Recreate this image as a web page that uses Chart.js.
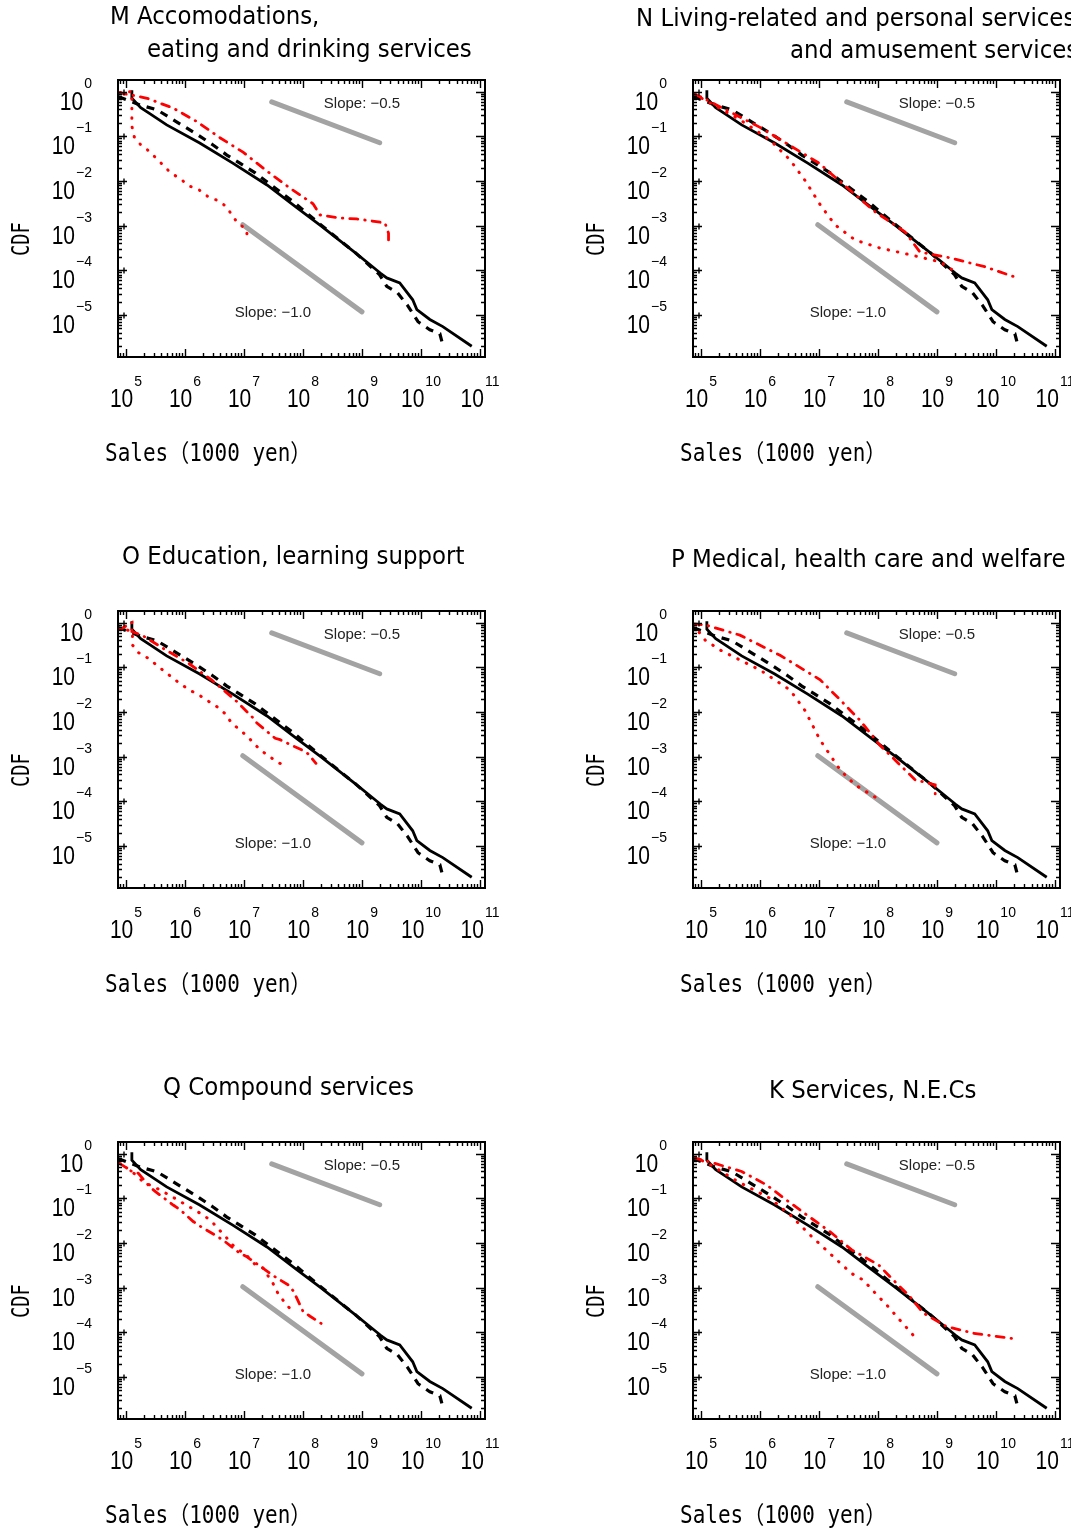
<!DOCTYPE html>
<html>
<head>
<meta charset="utf-8">
<script src="https://cdn.jsdelivr.net/npm/chart.js@4.4.1/dist/chart.umd.min.js"></script>
<style>
  html, body { margin: 0; padding: 0; background: #fff; }
  body { position: relative; width: 1080px; height: 1531px; overflow: hidden; }
  .panel { position: absolute; width: 575px; height: 531px; }
  .panel canvas { position: absolute; left: 0; top: 0; }
  .title { position: absolute; font-family: "DejaVu Sans", sans-serif; font-size: 22.9px; line-height: 23px;
           white-space: pre; color: #000; transform: scaleY(1.1); transform-origin: left top; }
  .xname { position: absolute; left: 105px; top: 439px; font-family: "DejaVu Sans Mono", "Noto Sans CJK JP", monospace;
           font-size: 21px; line-height: 24px; white-space: pre; color: #000; transform: scaleY(1.15); transform-origin: left top; }
  .yname { position: absolute; left: 9px; top: 256px; font-family: "DejaVu Sans Mono", "Noto Sans CJK JP", monospace;
           font-size: 24px; line-height: 24px; white-space: pre; color: #000; transform: rotate(-90deg) scaleX(0.78); transform-origin: left top; }
  .edge { position: absolute; left: 1071px; top: 0; width: 9px; height: 1531px; background: #fff; }
</style>
</head>
<body>
<script>
// log10 axis limits shared by every panel
const xLogRange = [4.865, 11.085];
const yLogRange = [-5.94, 0.26];
const xTickExponents = [5, 6, 7, 8, 9, 10, 11];
const yTickExponents = [0, -1, -2, -3, -4, -5];

// reference slopes (log10 sales, log10 cdf)
const slopeHalfX = [7.47, 9.30];
const slopeHalfY = [-0.23, -1.145];
const slopeOneX = [6.98, 9.0];
const slopeOneY = [-2.98, -4.93];
const slopeLabels = ['Slope: \u22120.5', 'Slope: \u22121.0'];
const slopeLabelX = [9.0, 7.49];
const slopeLabelY = [-0.27, -4.95];

// all firms (black solid) and comparison group (black dashed), same in every panel
const allFirmsX = [5.10, 5.10, 5.25, 5.41, 5.69, 6.25, 6.81, 7.39, 7.90, 8.30, 8.90, 9.31, 9.42, 9.64, 9.86, 9.93, 10.15, 10.37, 10.86];
const allFirmsY = [0.03, -0.15, -0.36, -0.50, -0.745, -1.15, -1.60, -2.09, -2.60, -3.00, -3.62, -4.06, -4.17, -4.28, -4.66, -4.88, -5.10, -5.26, -5.70];
const groupX = [4.87, 4.92, 5.24, 5.53, 5.75, 6.0, 6.22, 6.47, 6.71, 6.93, 7.19, 7.41, 7.64, 7.86, 8.30, 8.90, 9.30, 9.42, 9.60, 9.78, 9.95, 10.15, 10.32, 10.37];
const groupY = [-0.12, -0.14, -0.30, -0.41, -0.59, -0.79, -0.97, -1.19, -1.42, -1.60, -1.82, -2.04, -2.27, -2.49, -2.98, -3.62, -4.10, -4.36, -4.50, -4.80, -5.15, -5.33, -5.42, -5.67];

// M: red dotted / red dash-dot
const mDotX = [4.90, 5.10, 5.10, 5.10, 5.14, 5.25, 5.39, 5.61, 5.76, 5.92, 6.07, 6.24, 6.39, 6.56, 6.71, 6.81, 6.90, 7.05, 7.05];
const mDotY = [-0.02, 0.0, -0.50, -0.77, -1.01, -1.19, -1.33, -1.62, -1.82, -1.95, -2.11, -2.20, -2.35, -2.44, -2.58, -2.80, -2.94, -3.10, -3.21];
const mDashDotX = [4.87, 4.93, 5.15, 5.38, 5.80, 6.20, 6.59, 6.99, 7.38, 7.78, 8.17, 8.29, 8.63, 8.91, 9.14, 9.39, 9.45, 9.45];
const mDashDotY = [-0.03, -0.04, -0.09, -0.16, -0.37, -0.67, -1.03, -1.36, -1.77, -2.16, -2.51, -2.76, -2.83, -2.85, -2.89, -2.94, -3.17, -3.39];

// N
const nDotX = [4.87, 5.07, 5.66, 6.17, 6.51, 6.76, 7.02, 7.27, 7.61, 8.03, 8.54, 9.05, 9.31];
const nDotY = [-0.05, -0.19, -0.63, -1.08, -1.53, -1.98, -2.53, -2.98, -3.32, -3.50, -3.65, -3.81, -4.03];
const nDashDotX = [4.87, 5.0, 6.0, 7.0, 7.95, 8.46, 8.71, 9.22, 9.81, 10.32];
const nDashDotY = [-0.05, -0.12, -0.80, -1.60, -2.69, -3.14, -3.59, -3.72, -3.92, -4.15];

// O
const oDotX = [4.87, 4.93, 5.11, 5.11, 5.21, 5.38, 5.64, 5.93, 6.08, 6.25, 6.41, 6.55, 6.69, 6.79, 6.93, 7.07, 7.19, 7.34, 7.50, 7.67];
const oDotY = [-0.12, -0.13, -0.20, -0.50, -0.67, -0.80, -1.08, -1.38, -1.51, -1.63, -1.77, -1.89, -2.05, -2.25, -2.40, -2.56, -2.74, -2.91, -3.06, -3.20];
const oDashDotX = [4.87, 4.93, 5.10, 5.10, 5.27, 5.66, 6.06, 6.45, 6.85, 7.16, 7.22, 7.53, 7.61, 7.98, 8.09, 8.22];
const oDashDotY = [-0.12, -0.13, 0.0, -0.20, -0.28, -0.60, -0.91, -1.28, -1.73, -2.14, -2.25, -2.59, -2.62, -2.85, -2.94, -3.15];

// P
const pDotX = [4.87, 5.07, 5.32, 6.0, 6.51, 6.76, 7.02, 7.36, 7.61, 8.03];
const pDotY = [-0.05, -0.39, -0.61, -1.06, -1.51, -1.96, -2.63, -3.30, -3.63, -3.97];
const pDashDotX = [4.87, 5.07, 5.66, 6.34, 7.02, 7.36, 7.69, 8.03, 8.37, 8.63, 8.97, 8.97];
const pDashDotY = [-0.03, -0.05, -0.28, -0.73, -1.28, -1.73, -2.18, -2.74, -3.18, -3.52, -3.63, -3.93];

// Q
const qDotX = [4.87, 4.98, 5.10, 5.29, 5.59, 5.88, 6.02, 6.19, 6.35, 6.48, 6.59, 6.73, 6.84, 7.04, 7.18, 7.32, 7.49, 7.58, 7.69, 7.80];
const qDotY = [-0.20, -0.29, -0.40, -0.63, -0.82, -1.04, -1.15, -1.28, -1.41, -1.56, -1.72, -1.92, -2.09, -2.27, -2.47, -2.56, -2.90, -3.14, -3.33, -3.50];
const qDashDotX = [4.87, 5.10, 5.21, 5.40, 5.50, 5.80, 5.92, 6.14, 6.25, 6.53, 6.66, 6.93, 7.04, 7.36, 7.47, 7.75, 7.84, 8.00, 8.12, 8.33];
const qDashDotY = [-0.20, -0.40, -0.44, -0.74, -0.85, -1.15, -1.26, -1.52, -1.62, -1.84, -1.95, -2.23, -2.30, -2.60, -2.71, -2.94, -3.08, -3.53, -3.64, -3.82];

// K
const kDotX = [4.87, 5.10, 5.63, 6.17, 6.51, 6.88, 7.27, 7.55, 7.75, 7.98, 8.17, 8.34, 8.57, 8.66];
const kDotY = [-0.08, -0.20, -0.63, -1.00, -1.37, -1.86, -2.34, -2.68, -2.83, -3.16, -3.42, -3.68, -4.02, -4.18];
const kDashDotX = [4.87, 4.90, 5.21, 5.69, 6.11, 6.45, 6.79, 7.19, 7.55, 8.01, 8.20, 8.54, 8.77, 9.16, 9.62, 10.34];
const kDashDotY = [-0.08, -0.10, -0.21, -0.40, -0.70, -1.04, -1.37, -1.75, -2.15, -2.49, -2.75, -3.20, -3.57, -3.87, -4.02, -4.15];

const panels = [
  { left: 0,   top: 0,    title: [['M Accomodations,', 110, 3], ['eating and drinking services', 147, 36]], dot: [mDotX, mDotY], dashDot: [mDashDotX, mDashDotY] },
  { left: 575, top: 0,    title: [['N Living-related and personal services', 61, 5], ['and amusement services', 215, 37]], dot: [nDotX, nDotY], dashDot: [nDashDotX, nDashDotY] },
  { left: 0,   top: 531,  title: [['O Education, learning support', 122, 12]], dot: [oDotX, oDotY], dashDot: [oDashDotX, oDashDotY] },
  { left: 575, top: 531,  title: [['P Medical, health care and welfare', 96, 15]], dot: [pDotX, pDotY], dashDot: [pDashDotX, pDashDotY] },
  { left: 0,   top: 1062, title: [['Q Compound services', 163, 12]], dot: [qDotX, qDotY], dashDot: [qDashDotX, qDashDotY] },
  { left: 575, top: 1062, title: [['K Services, N.E.Cs', 194, 15]], dot: [kDotX, kDotY], dashDot: [kDashDotX, kDashDotY] },
];

function toPoints(xs, ys) {
  return xs.map((lx, i) => ({ x: Math.pow(10, lx), y: Math.pow(10, ys[i]) }));
}

// tall "10" base with a small exponent, placed under/left of a tick
function drawPower(ctx, exp, px, py, align) {
  const base = '10';
  const sup = exp < 0 ? '\u2212' + (-exp) : String(exp);
  ctx.font = '21px "Liberation Sans", Arial, sans-serif';
  const wb = ctx.measureText(base).width;
  ctx.font = '14px "Liberation Sans", Arial, sans-serif';
  const ws = ctx.measureText(sup).width;
  const x0 = align === 'x' ? px - (wb + ws + 1) / 2 : px - (wb + ws + 1);
  const baseY = align === 'x' ? py + 50 : py + 18;
  const supY = align === 'x' ? py + 29 : py - 4;
  ctx.save();
  ctx.translate(x0, baseY);
  ctx.scale(1, 1.2);
  ctx.font = '21px "Liberation Sans", Arial, sans-serif';
  ctx.fillText(base, 0, 0);
  ctx.restore();
  ctx.font = '14px "Liberation Sans", Arial, sans-serif';
  ctx.fillText(sup, x0 + wb + 1, supY);
}

const frameAndTicks = {
  id: 'frameAndTicks',
  afterDatasetsDraw(chart) {
    const { ctx, chartArea: a } = chart;
    const xs = chart.scales.x, ys = chart.scales.y;
    ctx.save();
    ctx.strokeStyle = '#000';
    ctx.fillStyle = '#000';
    ctx.lineWidth = 2;
    ctx.strokeRect(a.left, a.top, a.right - a.left, a.bottom - a.top);
    ctx.lineWidth = 1.4;
    ctx.beginPath();
    for (let e = 4; e <= 11; e++) {
      for (let k = 1; k <= 9; k++) {
        const v = k * Math.pow(10, e);
        if (v < xs.min || v > xs.max) continue;
        const px = Math.round(xs.getPixelForValue(v)) + 0.5;
        const len = k === 1 ? 8 : 4;
        ctx.moveTo(px, a.bottom); ctx.lineTo(px, a.bottom - len);
        ctx.moveTo(px, a.top); ctx.lineTo(px, a.top + len);
      }
    }
    for (let e = -6; e <= 0; e++) {
      for (let k = 1; k <= 9; k++) {
        const v = k * Math.pow(10, e);
        if (v < ys.min || v > ys.max) continue;
        const py = Math.round(ys.getPixelForValue(v)) + 0.5;
        const len = k === 1 ? 9 : 4;
        ctx.moveTo(a.left, py); ctx.lineTo(a.left + len, py);
        ctx.moveTo(a.right, py); ctx.lineTo(a.right - len, py);
        if (k === 1) { ctx.moveTo(a.left + 6, py - 3); ctx.lineTo(a.left + 6, py + 3); }
      }
    }
    ctx.stroke();

    ctx.textAlign = 'left';
    ctx.textBaseline = 'alphabetic';
    xTickExponents.forEach(e => drawPower(ctx, e, xs.getPixelForValue(Math.pow(10, e)), a.bottom, 'x'));
    yTickExponents.forEach(e => drawPower(ctx, e, a.left - 26, ys.getPixelForValue(Math.pow(10, e)), 'y'));

    ctx.font = '15px "Liberation Sans", Arial, sans-serif';
    ctx.fillStyle = '#222';
    ctx.textAlign = 'center';
    ctx.textBaseline = 'middle';
    slopeLabels.forEach((t, i) => {
      ctx.fillText(t, xs.getPixelForValue(Math.pow(10, slopeLabelX[i])), ys.getPixelForValue(Math.pow(10, slopeLabelY[i])));
    });
    ctx.restore();
  }
};

panels.forEach(p => {
  const wrap = document.createElement('div');
  wrap.className = 'panel';
  wrap.style.left = p.left + 'px';
  wrap.style.top = p.top + 'px';
  document.body.appendChild(wrap);

  const canvas = document.createElement('canvas');
  canvas.width = 575;
  canvas.height = 531;
  canvas.style.width = '575px';
  canvas.style.height = '531px';
  wrap.appendChild(canvas);

  p.title.forEach(([text, x, y]) => {
    const d = document.createElement('div');
    d.className = 'title';
    d.textContent = text;
    d.style.left = x + 'px';
    d.style.top = y + 'px';
    wrap.appendChild(d);
  });
  const xn = document.createElement('div');
  xn.className = 'xname';
  xn.textContent = 'Sales\uff081000 yen\uff09';
  wrap.appendChild(xn);
  const yn = document.createElement('div');
  yn.className = 'yname';
  yn.textContent = 'CDF';
  wrap.appendChild(yn);

  const grey = { borderColor: '#a3a3a3', borderWidth: 5, borderCapStyle: 'round', order: 5 };
  new Chart(canvas.getContext('2d'), {
    type: 'line',
    data: {
      datasets: [
        { ...grey, data: toPoints(slopeHalfX, slopeHalfY) },
        { ...grey, data: toPoints(slopeOneX, slopeOneY) },
        { data: toPoints(allFirmsX, allFirmsY), borderColor: '#000', borderWidth: 2.8, order: 3 },
        { data: toPoints(groupX, groupY), borderColor: '#000', borderWidth: 3.2, borderDash: [8, 7], order: 4 },
        { data: toPoints(p.dot[0], p.dot[1]), borderColor: '#ff0000', borderWidth: 3, borderDash: [0.5, 9], borderCapStyle: 'round', order: 1 },
        { data: toPoints(p.dashDot[0], p.dashDot[1]), borderColor: '#ff0000', borderWidth: 2.8, borderDash: [8, 7, 0.5, 7], borderCapStyle: 'round', order: 2 },
      ]
    },
    options: {
      responsive: false,
      animation: false,
      devicePixelRatio: 1,
      layout: { padding: { left: 118, top: 80, right: 90, bottom: 174 } },
      elements: { point: { radius: 0 }, line: { tension: 0, fill: false } },
      plugins: { legend: { display: false }, tooltip: { enabled: false }, title: { display: false } },
      scales: {
        x: { type: 'logarithmic', display: false, min: Math.pow(10, xLogRange[0]), max: Math.pow(10, xLogRange[1]) },
        y: { type: 'logarithmic', display: false, min: Math.pow(10, yLogRange[0]), max: Math.pow(10, yLogRange[1]) }
      }
    },
    plugins: [frameAndTicks]
  });
});

const edge = document.createElement('div');
edge.className = 'edge';
document.body.appendChild(edge);
</script>
</body>
</html>
